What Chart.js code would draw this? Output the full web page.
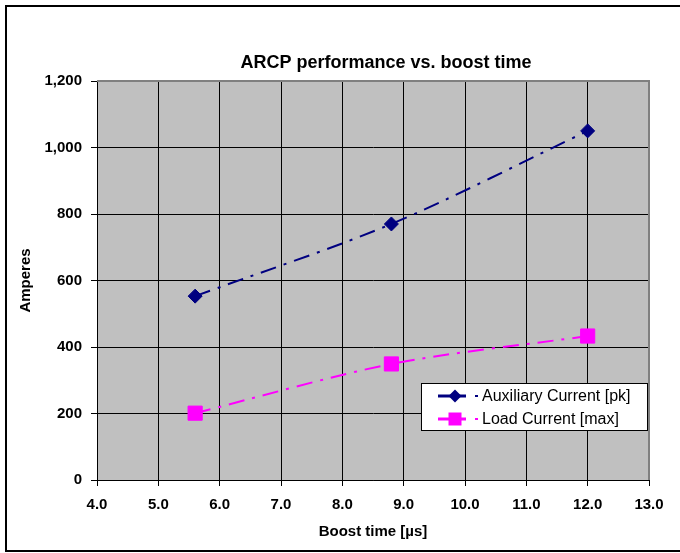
<!DOCTYPE html>
<html lang="en">
<head>
<meta charset="UTF-8">
<title>ARCP performance vs. boost time</title>
<style>
  html, body { margin: 0; padding: 0; background: #fff; }
  #chart { display: block; }
</style>
</head>
<body>
<canvas id="chart" width="680" height="553"></canvas>
<script src="https://cdn.jsdelivr.net/npm/chart.js@4.4.1/dist/chart.umd.min.js"></script>
<script>
// values
var boostTime = [5.6, 8.8, 12.0];
var auxCurrent = [553, 770, 1050];
var loadCurrent = [201, 349, 433];
var xTicks = [4, 5, 6, 7, 8, 9, 10, 11, 12, 13];
var yTicks = [0, 200, 400, 600, 800, 1000, 1200];
var seriesNames = ['Auxiliary Current [pk]', 'Load Current [max]'];

var FONT = "'Liberation Sans', Arial, sans-serif";

function points(ys) {
    return boostTime.map(function (x, i) { return { x: x, y: ys[i] }; });
}

function marker(ctx, style, x, y, r) {
    ctx.beginPath();
    if (style === 'rectRot') {
        ctx.moveTo(x - r, y); ctx.lineTo(x, y - r); ctx.lineTo(x + r, y); ctx.lineTo(x, y + r);
    } else {
        ctx.rect(x - r, y - r, 2 * r, 2 * r);
    }
    ctx.closePath();
    ctx.fill();
}

// plot background, plot border, title, legend and outer frame
var frame = {
    id: 'frame',
    beforeDraw: function (chart) {
        var a = chart.chartArea, ctx = chart.ctx;
        ctx.save();
        ctx.fillStyle = '#C0C0C0';
        ctx.fillRect(a.left, a.top, a.right - a.left, a.bottom - a.top);
        ctx.restore();
    },
    beforeDatasetsDraw: function (chart) {
        var a = chart.chartArea, ctx = chart.ctx;
        ctx.save();
        ctx.strokeStyle = '#808080';
        ctx.lineWidth = 2;
        ctx.beginPath();
        ctx.moveTo(a.left, a.top);
        ctx.lineTo(a.right, a.top);
        ctx.lineTo(a.right, a.bottom);
        ctx.stroke();
        ctx.restore();
    },
    afterDraw: function (chart) {
        var ctx = chart.ctx;
        ctx.save();
        // title
        ctx.fillStyle = '#000';
        ctx.font = 'bold 18px ' + FONT;
        ctx.textAlign = 'center';
        ctx.textBaseline = 'middle';
        ctx.fillText('ARCP performance vs. boost time', 386, 63);

        // legend
        ctx.fillStyle = '#fff';
        ctx.fillRect(422, 383, 226, 47);
        ctx.strokeStyle = '#000';
        ctx.lineWidth = 1;
        ctx.strokeRect(421.5, 383.5, 226, 47);
        chart.data.datasets.forEach(function (ds, i) {
            var y = 396 + i * 23;
            ctx.strokeStyle = ds.borderColor;
            ctx.fillStyle = ds.borderColor;
            ctx.lineWidth = 3;
            ctx.beginPath();
            ctx.moveTo(438, y);
            ctx.lineTo(466, y);
            ctx.stroke();
            marker(ctx, ds.pointStyle, 455, y, ds.pointStyle === 'rect' ? 6.5 : 6.5);
            ctx.fillRect(475, y - 1, 3, 2);
            ctx.fillStyle = '#000';
            ctx.font = '16px ' + FONT;
            ctx.textAlign = 'left';
            ctx.fillText(ds.label, 482, y + 1);
        });

        // outer frame
        ctx.strokeStyle = '#000';
        ctx.lineWidth = 2;
        ctx.strokeRect(6, 6, 690, 545);
        ctx.restore();
    }
};

var chart = new Chart(document.getElementById('chart'), {
    type: 'line',
    data: {
        datasets: [
            {
                label: seriesNames[0],
                data: points(auxCurrent),
                borderColor: '#000080',
                backgroundColor: '#000080',
                borderWidth: 2,
                borderDash: [16, 8, 3, 8],
                tension: 0.3,
                pointStyle: 'rectRot',
                pointRadius: 7,
                pointHoverRadius: 7,
                pointBorderWidth: 1
            },
            {
                label: seriesNames[1],
                data: points(loadCurrent),
                borderColor: '#FF00FF',
                backgroundColor: '#FF00FF',
                borderWidth: 2,
                borderDash: [16, 8, 3, 8],
                tension: 0.3,
                pointStyle: 'rect',
                pointRadius: 10,
                pointHoverRadius: 10,
                pointBorderWidth: 1
            }
        ]
    },
    options: {
        responsive: false,
        animation: false,
        layout: { padding: { left: 0, top: 81, right: 31, bottom: 0 } },
        plugins: {
            legend: { display: false },
            title: { display: false },
            tooltip: { enabled: false }
        },
        scales: {
            x: {
                type: 'linear',
                min: 4,
                max: 13,
                afterBuildTicks: function (scale) {
                    scale.ticks = xTicks.map(function (v) { return { value: v }; });
                },
                afterFit: function (scale) { scale.height = 73; },
                ticks: {
                    color: '#000',
                    font: { family: FONT, size: 15, weight: 'bold' },
                    padding: 10,
                    maxRotation: 0,
                    callback: function (v) { return Number(v).toFixed(1); }
                },
                grid: { color: '#000', lineWidth: 1, tickLength: 6 },
                border: { color: '#000', width: 1 },
                title: {
                    display: true,
                    text: 'Boost time [µs]',
                    color: '#000',
                    font: { family: FONT, size: 15, weight: 'bold' },
                    padding: { top: 0, bottom: 12 }
                }
            },
            y: {
                min: 0,
                max: 1200,
                afterBuildTicks: function (scale) {
                    scale.ticks = yTicks.map(function (v) { return { value: v }; });
                },
                afterFit: function (scale) { scale.width = 97; },
                ticks: {
                    color: '#000',
                    font: { family: FONT, size: 15, weight: 'bold' },
                    padding: 9,
                    callback: function (v) { return Number(v).toLocaleString('en-US'); }
                },
                grid: { color: '#000', lineWidth: 1, tickLength: 6 },
                border: { color: '#000', width: 1 },
                title: {
                    display: true,
                    text: 'Amperes',
                    color: '#000',
                    font: { family: FONT, size: 15, weight: 'bold' },
                    padding: { top: 17, bottom: 0 }
                }
            }
        }
    },
    plugins: [frame]
});
</script>
</body>
</html>
